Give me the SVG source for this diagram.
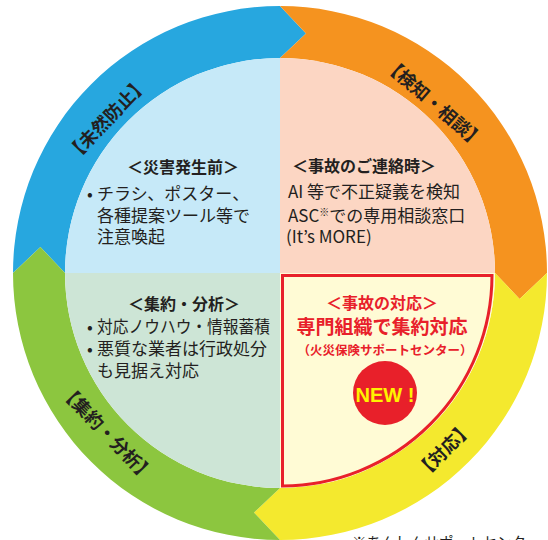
<svg xmlns="http://www.w3.org/2000/svg" width="548" height="540" viewBox="0 0 548 540">
<style>
.jp{font-family:"Noto Sans CJK JP","Noto Sans",sans-serif;fill:#231f20}
.hd{font-size:16px;font-weight:700;text-anchor:middle}
.bd{font-size:17px;font-weight:400}
.ring{font-size:18px;font-weight:700;text-anchor:middle;dominant-baseline:central}
.red{fill:#e8202a}
</style>
<rect width="548" height="540" fill="#ffffff"/>
<g id="connectors">
  <path id="ring-prevention" d="M13,273 A267,267 0 0 1 280,6 L306,33.4 L280,58 A215,215 0 0 0 65,273 L40.4,247 Z" fill="#27a7df"/>
  <path id="ring-detection" d="M280,6 A267,267 0 0 1 547,273 L519.6,299 L495,273 A215,215 0 0 0 280,58 L306,33.4 Z" fill="#f5931f"/>
  <path id="ring-response" d="M547,273 A267,267 0 0 1 280,540 L254,512.6 L280,488 A215,215 0 0 0 495,273 L519.6,299 Z" fill="#f4e92e"/>
  <path id="ring-analysis" d="M280,540 A267,267 0 0 1 13,273 L40.4,247 L65,273 A215,215 0 0 0 280,488 L254,512.6 Z" fill="#8cc63f"/>
</g>
<g id="label-prevention"><text class="jp ring" transform="translate(106,118) rotate(-46)">【未然防止】</text></g>
<g id="label-detection"><text class="jp ring" transform="translate(435,102) rotate(41)">【検知・相談】</text></g>
<g id="label-response"><text class="jp ring" transform="translate(443,449) rotate(-45)">【対応】</text></g>
<g id="label-analysis"><text class="jp ring" transform="translate(108,432) rotate(46)">【集約・分析】</text></g>

<g id="quad-before">
  <path d="M280,273 L65,273 A215,215 0 0 1 280,58 Z" fill="#c6e9f8"/>
  <text class="jp hd" x="183" y="173">＜災害発生前＞</text>
  <text class="jp bd" x="87" y="200">•</text>
  <text class="jp bd" x="97" y="200">チラシ、ポスター、</text>
  <text class="jp bd" x="97" y="222">各種提案ツール等で</text>
  <text class="jp bd" x="97" y="243">注意喚起</text>
</g>
<g id="quad-contact">
  <path d="M280,273 L280,58 A215,215 0 0 1 495,273 Z" fill="#fcd6c3"/>
  <text class="jp hd" x="364" y="172">＜事故のご連絡時＞</text>
  <text class="jp bd" x="288" y="198">AI 等で不正疑義を検知</text>
  <text class="jp bd" x="288" y="222">ASC<tspan font-size="10" dy="-6">※</tspan><tspan dy="6">での専用相談窓口</tspan></text>
  <text class="jp bd" x="286" y="243">(It’s MORE)</text>
</g>
<g id="quad-analysis">
  <path d="M280,273 L280,488 A215,215 0 0 1 65,273 Z" fill="#cde5d6"/>
  <text class="jp hd" x="184" y="310">＜集約・分析＞</text>
  <text class="jp bd" x="87" y="333">•</text>
  <text class="jp bd" x="97" y="333" textLength="173" lengthAdjust="spacingAndGlyphs">対応ノウハウ・情報蓄積</text>
  <text class="jp bd" x="87" y="355">•</text>
  <text class="jp bd" x="97" y="355">悪質な業者は行政処分</text>
  <text class="jp bd" x="97" y="377">も見据え対応</text>
</g>
<g id="quad-response">
  <path d="M280,273 L495,273 A215,215 0 0 1 280,488 Z" fill="#fffbd5"/>
  <path d="M282.5,275.5 L492,275.5 A211,211 0 0 1 282.5,486 Z" fill="none" stroke="#e8202a" stroke-width="3" stroke-linejoin="miter"/>
  <text class="jp hd red" x="382" y="309">＜事故の対応＞</text>
  <text class="jp red" x="382" y="334" font-size="19" font-weight="700" text-anchor="middle">専門組織で集約対応</text>
  <text class="jp red" x="385" y="355" font-size="12.5" font-weight="700" text-anchor="middle">（火災保険サポートセンター）</text>
  <g id="badge-new">
    <circle cx="385" cy="393" r="32" fill="#e8202a"/>
    <text x="385" y="402" font-family="Liberation Sans, Arial, sans-serif" font-size="21" font-weight="700" fill="#fff200" text-anchor="middle" textLength="59" lengthAdjust="spacingAndGlyphs">NEW !</text>
  </g>
</g>
<text class="jp" x="352" y="548" font-size="14.5">※あんしんサポートセンター（</text>
</svg>
